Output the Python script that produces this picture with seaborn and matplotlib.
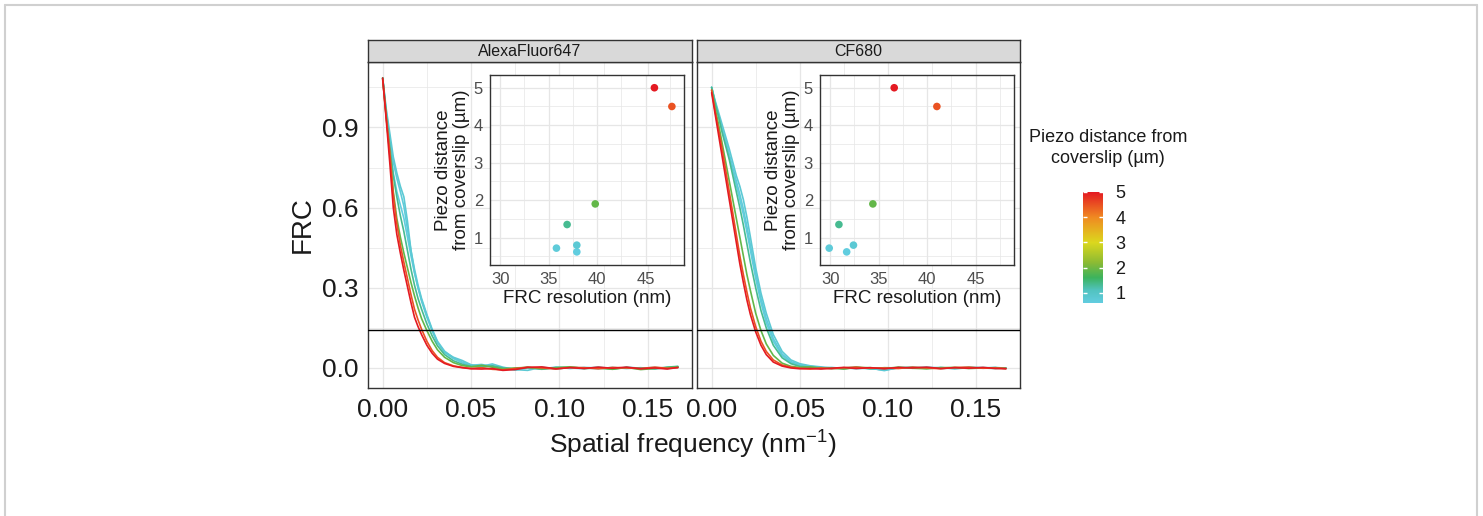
import numpy as np
import pandas as pd
import matplotlib
matplotlib.use("Agg")
import matplotlib.pyplot as plt
from matplotlib.colors import LinearSegmentedColormap, Normalize
from matplotlib.lines import Line2D
from matplotlib.ticker import MultipleLocator
import seaborn as sns

# --- data ---
dyes = ["AlexaFluor647", "CF680"]
depths = [0.62, 0.72, 0.8, 1.35, 1.9, 4.5, 5.0]

freq = [0.000, 0.002, 0.004, 0.006, 0.008, 0.010, 0.012, 0.014, 0.016, 0.018,
        0.020, 0.022, 0.025, 0.028, 0.031, 0.035, 0.040, 0.045, 0.050, 0.056,
        0.062, 0.068, 0.075, 0.082, 0.090, 0.098, 0.106, 0.114, 0.122, 0.130,
        0.138, 0.146, 0.154, 0.161, 0.167]

# FRC curves, AlexaFluor647
a_062 = [1.085, 0.95, 0.83, 0.73, 0.66, 0.61, 0.56, 0.49, 0.42, 0.355, 0.30, 0.25, 0.19, 0.14, 0.096, 0.058, 0.035, 0.02,
         0.008, 0.004, 0.009, -0.004, -0.003, 0.002, -0.005, 0.002, 0.0, -0.003, 0.003, -0.002, 0.001, -0.003, 0.0, -0.001, 0.002]
a_072 = [1.085, 0.96, 0.86, 0.77, 0.71, 0.66, 0.605, 0.52, 0.44, 0.37, 0.31, 0.26, 0.20, 0.145, 0.10, 0.063, 0.038, 0.022,
         0.01, 0.013, 0.006, -0.002, -0.008, 0.0, -0.003, 0.003, -0.002, 0.002, 0.0, -0.004, 0.003, -0.001, 0.002, -0.002, 0.003]
a_080 = [1.085, 0.97, 0.88, 0.79, 0.73, 0.68, 0.64, 0.55, 0.44, 0.36, 0.30, 0.255, 0.195, 0.14, 0.095, 0.06, 0.04, 0.028,
         0.012, 0.006, 0.015, 0.003, -0.006, -0.009, 0.003, -0.004, 0.002, 0.0, -0.003, 0.002, -0.002, 0.001, -0.004, 0.002, 0.005]
a_135 = [1.085, 0.95, 0.83, 0.72, 0.64, 0.57, 0.51, 0.44, 0.37, 0.31, 0.26, 0.22, 0.165, 0.12, 0.083, 0.05, 0.027, 0.014,
         0.006, 0.003, 0.008, 0.0, -0.003, 0.002, -0.004, 0.001, 0.003, -0.001, 0.002, -0.003, 0.001, 0.0, -0.002, 0.003, 0.006]
a_190 = [1.085, 0.94, 0.80, 0.66, 0.56, 0.49, 0.43, 0.375, 0.32, 0.27, 0.225, 0.185, 0.14, 0.10, 0.068, 0.04, 0.02, 0.009,
         0.004, 0.01, 0.003, -0.004, 0.0, 0.002, -0.003, 0.001, 0.004, -0.002, 0.0, -0.005, 0.002, -0.006, -0.002, 0.001, 0.004]
a_450 = [1.08, 0.94, 0.81, 0.65, 0.54, 0.46, 0.395, 0.335, 0.275, 0.22, 0.18, 0.145, 0.10, 0.065, 0.04, 0.02, 0.008, 0.002,
         -0.002, 0.001, -0.005, -0.007, -0.002, 0.003, 0.0, -0.004, 0.002, 0.001, -0.003, 0.002, 0.0, -0.002, 0.003, -0.001, 0.001]
a_500 = [1.085, 0.93, 0.77, 0.60, 0.50, 0.43, 0.365, 0.305, 0.245, 0.19, 0.155, 0.125, 0.085, 0.055, 0.033, 0.017, 0.006, 0.001,
         -0.003, -0.004, -0.002, -0.009, -0.006, 0.002, 0.004, -0.003, 0.001, -0.002, 0.003, -0.001, 0.003, -0.003, 0.0, -0.004, 0.002]

# FRC curves, CF680
c_062 = [1.05, 0.99, 0.94, 0.89, 0.84, 0.79, 0.74, 0.685, 0.63, 0.575, 0.51, 0.44, 0.335, 0.245, 0.17, 0.10, 0.046, 0.02,
         0.01, 0.005, 0.0, 0.002, -0.002, 0.001, -0.003, -0.006, 0.001, -0.001, 0.003, 0.0, -0.002, 0.001, 0.0, 0.002, -0.001]
c_072 = [1.05, 0.995, 0.945, 0.895, 0.85, 0.80, 0.75, 0.70, 0.65, 0.595, 0.53, 0.46, 0.355, 0.26, 0.185, 0.11, 0.052, 0.024,
         0.012, 0.006, 0.002, -0.002, 0.001, -0.003, 0.0, -0.01, 0.002, 0.0, 0.002, -0.002, 0.0, 0.002, -0.001, 0.001, -0.002]
c_080 = [1.05, 1.0, 0.955, 0.91, 0.865, 0.82, 0.77, 0.72, 0.68, 0.63, 0.565, 0.49, 0.375, 0.28, 0.205, 0.125, 0.062, 0.03,
         0.016, 0.008, 0.004, 0.0, -0.003, 0.002, -0.002, -0.008, 0.0, 0.003, -0.001, 0.002, -0.003, 0.001, 0.002, -0.001, 0.0]
c_135 = [1.05, 0.99, 0.94, 0.88, 0.83, 0.78, 0.72, 0.66, 0.60, 0.535, 0.465, 0.395, 0.30, 0.215, 0.15, 0.085, 0.038, 0.016,
         0.006, 0.003, 0.001, -0.002, 0.0, 0.003, -0.003, 0.001, 0.0, 0.002, -0.002, 0.001, -0.001, 0.002, 0.0, -0.002, 0.0]
c_190 = [1.04, 0.97, 0.91, 0.84, 0.77, 0.70, 0.63, 0.56, 0.49, 0.42, 0.35, 0.29, 0.205, 0.14, 0.09, 0.047, 0.018, 0.006,
         0.002, 0.004, -0.002, 0.0, -0.004, 0.002, 0.001, -0.002, 0.003, -0.001, -0.003, 0.001, 0.002, -0.002, 0.0, 0.001, -0.002]
c_450 = [1.04, 0.96, 0.89, 0.82, 0.74, 0.66, 0.58, 0.50, 0.42, 0.35, 0.285, 0.225, 0.155, 0.10, 0.062, 0.03, 0.011, 0.003,
         -0.001, -0.004, 0.0, -0.003, 0.001, 0.003, -0.001, 0.0, -0.002, 0.003, 0.0, -0.003, 0.002, 0.003, -0.001, 0.0, -0.002]
c_500 = [1.03, 0.95, 0.87, 0.79, 0.71, 0.63, 0.55, 0.47, 0.39, 0.32, 0.255, 0.20, 0.135, 0.085, 0.05, 0.022, 0.007, 0.0,
         -0.003, -0.002, -0.004, -0.001, 0.002, -0.002, 0.001, -0.003, 0.002, 0.0, 0.003, -0.002, 0.001, -0.001, 0.002, -0.002, -0.003]

# FRC resolution (nm) per depth, for the insets
res_alexa = [37.9, 35.8, 37.9, 36.9, 39.8, 47.7, 45.9]
res_cf680 = [31.7, 29.9, 32.4, 30.9, 34.4, 41.0, 36.6]

curves = {
    "AlexaFluor647": [a_062, a_072, a_080, a_135, a_190, a_450, a_500],
    "CF680": [c_062, c_072, c_080, c_135, c_190, c_450, c_500],
}
resolutions = {"AlexaFluor647": res_alexa, "CF680": res_cf680}

rows = []
for dye in dyes:
    for d, vals in zip(depths, curves[dye]):
        for f, v in zip(freq, vals):
            rows.append((dye, d, f, v))
df = pd.DataFrame(rows, columns=["dye", "depth", "freq", "frc"])

# --- style ---
sns.set_style("white")
plt.rcParams["font.family"] = ["Liberation Sans", "DejaVu Sans"]
plt.rcParams["mathtext.fontset"] = "custom"
plt.rcParams["mathtext.rm"] = "Liberation Sans"
plt.rcParams["mathtext.it"] = "Liberation Sans:italic"

vmin, vmax = 0.6, 5.0
stops = [(0.6, "#62cde0"), (1.1, "#52c3c0"), (1.6, "#3cb35e"), (2.2, "#8cbb34"),
         (3.0, "#dcd81e"), (4.0, "#f08a22"), (5.0, "#e41a22")]
cmap = LinearSegmentedColormap.from_list(
    "piezo", [((v - vmin) / (vmax - vmin), c) for v, c in stops])
norm = Normalize(vmin, vmax)

W, H = 1483, 516
fig = plt.figure(figsize=(W / 100, H / 100), dpi=100)


def px_axes(x0, y0, x1, y1):
    return fig.add_axes([x0 / W, 1 - y1 / H, (x1 - x0) / W, (y1 - y0) / H])


panel_x = [(368, 692), (697, 1020)]
inset_x = [(490, 684), (820, 1014)]
grid_c = "#e6e6e6"
border_c = "#333333"

for i, dye in enumerate(dyes):
    x0, x1 = panel_x[i]
    ax = px_axes(x0, 62, x1, 388)
    sub = df[df["dye"] == dye]
    sns.lineplot(data=sub, x="freq", y="frc", hue="depth", palette=cmap,
                 hue_norm=norm, estimator=None, legend=False, linewidth=1.2,
                 ax=ax)
    ax.axhline(1 / 7, color="black", lw=1.0, zorder=4)
    ax.set_xlim(-0.0083, 0.175)
    ax.set_ylim(-0.075, 1.145)
    ax.xaxis.set_major_locator(MultipleLocator(0.05))
    ax.xaxis.set_minor_locator(MultipleLocator(0.025))
    ax.yaxis.set_major_locator(MultipleLocator(0.3))
    ax.yaxis.set_minor_locator(MultipleLocator(0.15))
    ax.grid(True, which="major", color=grid_c, lw=0.9)
    ax.grid(True, which="minor", color=grid_c, lw=0.5)
    ax.set_axisbelow(True)
    for s in ax.spines.values():
        s.set_color(border_c)
        s.set_linewidth(1.0)
    ax.set_xticks([0, 0.05, 0.10, 0.15])
    ax.set_xticklabels(["0.00", "0.05", "0.10", "0.15"])
    ax.tick_params(axis="x", which="major", length=3, width=0.8, color=border_c,
                   labelsize=19, labelcolor="#1a1a1a", pad=4)
    ax.tick_params(which="minor", length=0)
    if i == 0:
        ax.set_yticks([0, 0.3, 0.6, 0.9])
        ax.set_yticklabels(["0.0", "0.3", "0.6", "0.9"])
        ax.tick_params(axis="y", which="major", length=3, width=0.8,
                       color=border_c, labelsize=19, labelcolor="#1a1a1a", pad=4)
    else:
        ax.tick_params(axis="y", which="major", length=0, labelleft=False)
    ax.set_xlabel("")
    ax.set_ylabel("")

    # facet strip
    sax = px_axes(x0, 40, x1, 62)
    sax.set_facecolor("#d9d9d9")
    sax.set_xticks([])
    sax.set_yticks([])
    for s in sax.spines.values():
        s.set_color(border_c)
        s.set_linewidth(1.0)
    sax.text(0.5, 0.5, dye, ha="center", va="center", fontsize=11.5,
             color="#1a1a1a", transform=sax.transAxes)

    # inset scatter of FRC resolution vs depth
    ix0, ix1 = inset_x[i]
    iax = px_axes(ix0, 75, ix1, 265)
    iax.set_facecolor("white")
    sns.scatterplot(x=resolutions[dye], y=depths, hue=depths, palette=cmap,
                    hue_norm=norm, s=30, edgecolor="none", legend=False,
                    ax=iax, zorder=3)
    iax.set_xlim(28.95, 48.95)
    iax.set_ylim(0.27, 5.34)
    iax.set_xticks([30, 35, 40, 45])
    iax.set_yticks([1, 2, 3, 4, 5])
    iax.xaxis.set_minor_locator(MultipleLocator(2.5))
    iax.yaxis.set_minor_locator(MultipleLocator(0.5))
    iax.grid(True, which="major", color=grid_c, lw=0.9)
    iax.grid(True, which="minor", color=grid_c, lw=0.5)
    iax.set_axisbelow(True)
    for s in iax.spines.values():
        s.set_color(border_c)
        s.set_linewidth(1.0)
    iax.tick_params(which="major", length=3, width=0.8, color=border_c,
                    labelsize=12, labelcolor="#4d4d4d", pad=2)
    iax.tick_params(which="minor", length=0)
    iax.set_xlabel("FRC resolution (nm)", fontsize=13.5, color="#1a1a1a",
                   labelpad=2)
    iax.set_ylabel("Piezo distance\nfrom coverslip (µm)", fontsize=13.5,
                   color="#1a1a1a", labelpad=3, linespacing=1.05)

fig.text(303 / W, 1 - 225 / H, "FRC", rotation=90, ha="center", va="center",
         fontsize=20, color="#1a1a1a")
fig.text(693 / W, 1 - 445 / H, "Spatial frequency (nm$^{-1}$)", ha="center",
         va="center", fontsize=19, color="#1a1a1a")

# colour bar legend
cax = px_axes(1083, 192, 1103, 303)
grad = np.linspace(vmin, vmax, 256)[:, None]
cax.imshow(grad, aspect="auto", cmap=cmap, norm=norm, origin="lower",
           extent=[0, 1, vmin, vmax])
cax.set_xlim(0, 1)
cax.set_ylim(vmin, vmax)
cax.set_xticks([])
cax.yaxis.tick_right()
cax.set_yticks([1, 2, 3, 4, 5])
cax.tick_params(axis="y", length=0, labelsize=13, labelcolor="#1a1a1a", pad=9)
for s in cax.spines.values():
    s.set_visible(False)
cax.hlines([1, 2, 3, 4, 5], 0, 0.2, colors="white", lw=1)
cax.hlines([1, 2, 3, 4, 5], 0.8, 1, colors="white", lw=1)
fig.text(1108 / W, 1 - 148 / H, "Piezo distance from\ncoverslip (µm)",
         ha="center", va="center", fontsize=13, color="#1a1a1a",
         linespacing=1.25)

# light frame around the figure
frame_c = "#d0d0d0"
fig.add_artist(Line2D([5 / W, 5 / W], [0, 1 - 5 / H], color=frame_c, lw=1.5))
fig.add_artist(Line2D([5 / W, 1477 / W], [1 - 5 / H, 1 - 5 / H], color=frame_c, lw=1.5))
fig.add_artist(Line2D([1477 / W, 1477 / W], [0, 1 - 5 / H], color=frame_c, lw=1.5))

fig.savefig("out.png", dpi=100)
